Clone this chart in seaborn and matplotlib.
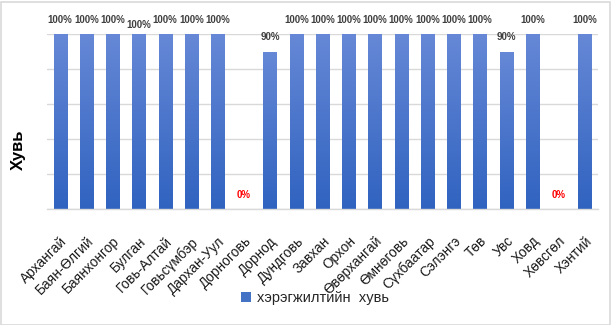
import numpy as np
import pandas as pd
import matplotlib
matplotlib.use("Agg")
import matplotlib.pyplot as plt
from matplotlib.patches import Patch, Rectangle
from matplotlib.colors import LinearSegmentedColormap
import seaborn as sns

# Implementation rate by aimag
aimags = ["Архангай", "Баян-Өлгий", "Баянхонгор", "Булган", "Говь-Алтай",
          "Говьсүмбэр", "Дархан-Уул", "Дорноговь", "Дорнод", "Дундговь",
          "Завхан", "Орхон", "Өвөрхангай", "Өмнөговь", "Сүхбаатар",
          "Сэлэнгэ", "Төв", "Увс", "Ховд", "Хөвсгөл", "Хэнтий"]
rates = [100, 100, 100, 100, 100, 100, 100, 0, 90, 100,
         100, 100, 100, 100, 100, 100, 100, 90, 100, 0, 100]
series_name = "хэрэгжилтийн  хувь"
y_title = "Хувь"

df = pd.DataFrame({"aimag": aimags, "rate": rates})

sns.set_theme(style="white")
plt.rcParams["font.family"] = ["Liberation Sans", "DejaVu Sans"]

W, H = 611, 325
fig = plt.figure(figsize=(W / 100, H / 100), dpi=100)
ax = fig.add_axes([47 / W, 1 - 209 / H, (598 - 47) / W, (209 - 34) / H])

sns.barplot(data=df, x="aimag", y="rate", ax=ax, color="#4472c4",
            width=0.5, saturation=1, edgecolor="none")

ax.set_ylim(0, 100)
ax.set_xlim(-0.5, len(aimags) - 0.5)
ax.set_yticks(np.arange(0, 101, 20))
ax.yaxis.grid(True, color="#d9d9d9", linewidth=1)
ax.set_axisbelow(True)
ax.tick_params(axis="y", left=False, labelleft=False)
for s in ["top", "right", "left"]:
    ax.spines[s].set_visible(False)
ax.spines["bottom"].set_color("#d9d9d9")
ax.spines["bottom"].set_linewidth(1)

# Vertical gradient fill on each bar
cmap = LinearSegmentedColormap.from_list("barfill", ["#3063c0", "#6688d6"])
grad = np.linspace(0, 1, 256).reshape(-1, 1)
for p in ax.patches:
    h = p.get_height()
    if h <= 0:
        continue
    x0 = p.get_x()
    w = p.get_width()
    im = ax.imshow(grad, cmap=cmap, origin="lower", aspect="auto",
                   extent=[x0, x0 + w, 0, h], zorder=p.get_zorder())
    im.set_clip_path(p)
    p.set_facecolor("none")
ax.set_xlim(-0.5, len(aimags) - 0.5)
ax.set_ylim(0, 100)

# Value labels above bars
for i, v in enumerate(rates):
    off = 6.5
    if aimags[i] == "Булган":
        off = 3
    color = "#ff0000" if v == 0 else "#404040"
    ax.annotate(f"{v}%", (i, v), xytext=(0, off), textcoords="offset points",
                ha="center", va="bottom", fontsize=7, fontweight="bold",
                color=color, annotation_clip=False)

ax.set_xlabel("")
ax.set_ylabel("")
ax.tick_params(axis="x", bottom=False, pad=12, labelsize=9.8, labelcolor="#1a1a1a")
plt.setp(ax.get_xticklabels(), rotation=45, ha="right", va="top",
         rotation_mode="anchor")

fig.text(18 / W, 1 - 150 / H, y_title, rotation=90, ha="center", va="center",
         fontsize=12, fontweight="bold", color="#000000")

fig.legend(handles=[Patch(facecolor="#4472c4", edgecolor="none", label=series_name)],
           loc="center", bbox_to_anchor=(315 / W, 1 - 298 / H), frameon=False,
           fontsize=10.5, handlelength=0.7, handleheight=0.7, handletextpad=0.4)

# Outer chart border
fig.patches.append(Rectangle((0.5 / W, 0.5 / H), 1 - 2 / W, 1 - 2 / H,
                             transform=fig.transFigure, fill=False,
                             edgecolor="#d9d9d9", linewidth=1.2))

fig.savefig("out.png", dpi=100)
